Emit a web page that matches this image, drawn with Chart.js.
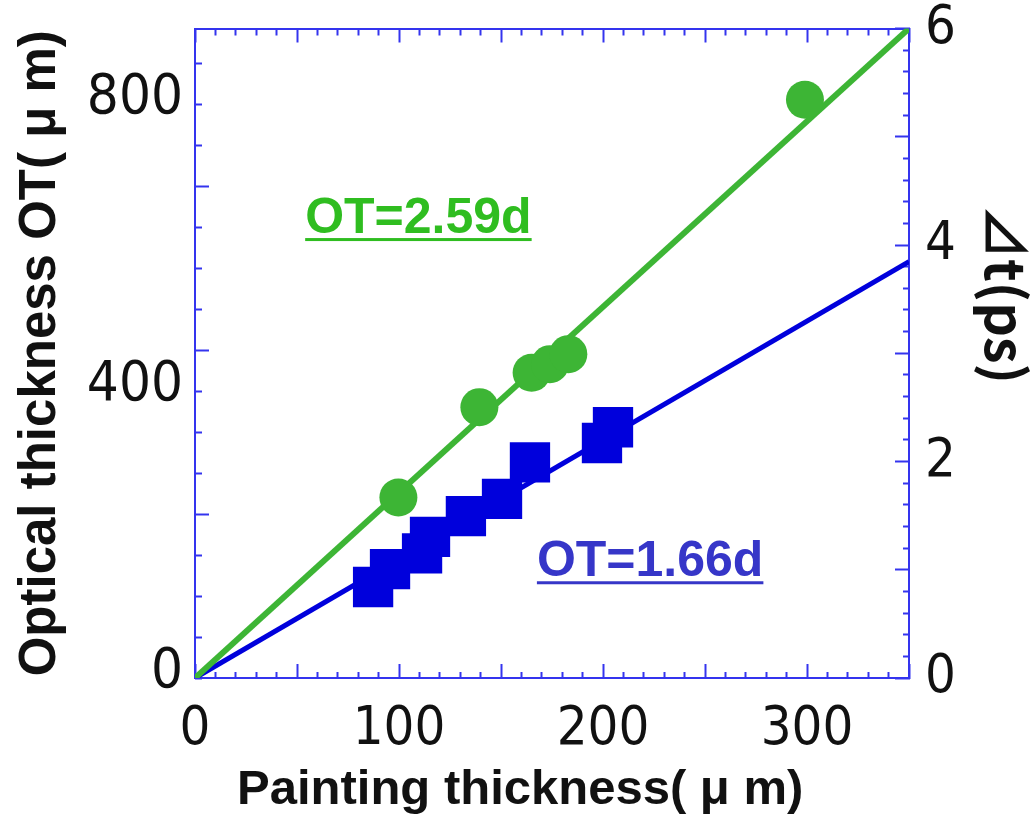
<!DOCTYPE html>
<html>
<head>
<meta charset="utf-8">
<title>Optical thickness vs painting thickness</title>
<script src="https://cdn.jsdelivr.net/npm/chart.js@4.4.1/dist/chart.umd.min.js"></script>
<style>
    html, body { margin: 0; padding: 0; background: #fff; }
    #wrap { width: 1034px; height: 819px; }
</style>
</head>
<body>
<div id="wrap"><canvas id="otChart" width="1034" height="819"></canvas></div>
<script>
    // Measured points: painting thickness d (um) and optical thickness OT (um)
    const circleD  = [99.7, 139.4, 165, 174, 183, 299];
    const circleOT = [252, 378, 426, 438, 452, 807];
    const squareD  = [87.3, 95.6, 111.3, 115.2, 132.8, 150.5, 164.2, 199.5, 204.9];
    const squareOT = [127, 152, 174, 197, 226, 250, 301, 328, 350];

    // Fitted lines OT = k * d
    const fitSlopes = [2.59, 1.66];
    const fitRange = [0, 350];

    // Labelled ticks
    const xLabels = [0, 100, 200, 300];
    const otLabels = [0, 400, 800];
    const dtLabels = [0, 2, 4, 6];

    const colors = {
        green: '#3db535',
        blue: '#0000dc',
        axis: '#3434ee',
        greenText: '#2fbd20',
        blueText: '#3636c8',
        text: '#111111'
    };

    const narrow = "'DejaVu Sans Condensed', 'Liberation Sans Narrow', sans-serif";
    const sans = "'Liberation Sans', Arial, 'Noto Sans CJK JP', sans-serif";
    const cjk = "'Noto Sans CJK JP', 'Liberation Sans', sans-serif";

    // tick marks point into the plot; short ones are cut with a dash pattern
    const TICK = 14;
    const SHORT = 7;

    function range(count, step) {
        const out = [];
        for (let i = 0; i < count; i++) out.push(Math.round(i * step * 1e6) / 1e6);
        return out;
    }

    const xTicks = range(36, 10);           // every 10 um, long every 50
    const otStep = 400 / 7;
    const otTicks = range(16, otStep);      // long every 4th
    const dtTicks = range(31, 0.2);         // every 0.2 ps, long every 1

    const near = (a, b) => Math.abs(a - b) < 1e-3;

    function setTicks(values) {
        return function(scale) {
            scale.ticks = values.map(v => ({ value: v }));
        };
    }

    // fixed box size, and no extra room for labels hanging over the ends
    function fixSize(key, size) {
        return function(scale) {
            scale[key] = size;
            scale.paddingTop = 0;
            scale.paddingBottom = 0;
            scale.paddingLeft = 0;
            scale.paddingRight = 0;
        };
    }

    // inner end first (left/top) or border end first (bottom/right)
    function tickDash(isLong, innerFirst) {
        if (isLong) return [];
        return innerFirst ? [0, TICK - SHORT, SHORT, 200] : [SHORT, 200];
    }

    function axisGrid(isLongFn, innerFirst) {
        return {
            drawOnChartArea: false,
            drawTicks: true,
            tickLength: -TICK,
            tickWidth: 2,
            tickColor: colors.axis,
            tickBorderDash: ctx => tickDash(ctx.tick && isLongFn(ctx.tick.value), innerFirst)
        };
    }

    const axisBorder = { display: true, color: colors.axis, width: 2 };

    const textLabels = {
        id: 'textLabels',
        afterDraw(chart, args, opts) {
            const { ctx, scales } = chart;
            const x = scales.x, y = scales.y;
            ctx.save();

            // fit equations with underline
            opts.equations.forEach((eq, i) => {
                const text = 'OT=' + fitSlopes[i].toFixed(2) + 'd';
                const px = x.getPixelForValue(eq.d);
                const py = y.getPixelForValue(eq.ot);
                ctx.font = 'bold 50px ' + sans;
                ctx.fillStyle = eq.color;
                ctx.textAlign = 'left';
                ctx.textBaseline = 'alphabetic';
                ctx.fillText(text, px, py);
                const w = ctx.measureText(text).width;
                ctx.fillRect(px, py + 5, w, 3);
            });

            // x axis title
            ctx.font = 'bold 49px ' + sans;
            ctx.fillStyle = colors.text;
            ctx.textAlign = 'left';
            ctx.textBaseline = 'alphabetic';
            ctx.fillText('Painting thickness( μ m)', opts.xTitle.x, opts.xTitle.y);

            // right axis title, reading downwards
            ctx.translate(opts.dtTitle.x, opts.dtTitle.y);
            ctx.rotate(Math.PI / 2);
            ctx.font = 'bold 54px ' + cjk;
            ctx.textAlign = 'left';
            ctx.textBaseline = 'middle';
            ctx.fillText('⊿t(ps)', 0, 0);

            ctx.restore();
        }
    };

    new Chart(document.getElementById('otChart'), {
        type: 'scatter',
        data: {
            datasets: [{
                label: 'OT',
                data: circleD.map((d, i) => ({ x: d, y: circleOT[i] })),
                pointStyle: 'circle',
                pointRadius: 19,
                backgroundColor: colors.green,
                borderWidth: 0,
                order: 0
            }, {
                label: 'OT',
                data: squareD.map((d, i) => ({ x: d, y: squareOT[i] })),
                pointStyle: 'rect',
                pointRadius: 28.5,
                backgroundColor: colors.blue,
                borderWidth: 0,
                order: 0
            }, {
                label: 'OT=2.59d',
                data: fitRange.map(d => ({ x: d, y: fitSlopes[0] * d })),
                showLine: true,
                pointRadius: 0,
                borderColor: colors.green,
                borderWidth: 6,
                order: 1
            }, {
                label: 'OT=1.66d',
                data: fitRange.map(d => ({ x: d, y: fitSlopes[1] * d })),
                showLine: true,
                pointRadius: 0,
                borderColor: colors.blue,
                borderWidth: 5,
                order: 1
            }]
        },
        options: {
            responsive: false,
            animation: false,
            layout: { padding: { top: 28, left: 0, right: 0, bottom: 0 } },
            plugins: {
                legend: { display: false },
                tooltip: { enabled: false },
                textLabels: {
                    equations: [
                        { d: 54, ot: 621, color: colors.greenText },
                        { d: 167.6, ot: 142, color: colors.blueText }
                    ],
                    xTitle: { x: 237, y: 804 },
                    dtTitle: { x: 1006, y: 205 }
                }
            },
            scales: {
                x: {
                    type: 'linear',
                    position: 'bottom',
                    min: fitRange[0],
                    max: fitRange[1],
                    afterBuildTicks: setTicks(xTicks),
                    afterFit: fixSize('height', 141),
                    border: axisBorder,
                    grid: axisGrid(v => near(v % 50, 0), false),
                    ticks: {
                        autoSkip: false,
                        maxRotation: 0,
                        padding: 39,
                        color: colors.text,
                        font: { family: narrow, size: 54, lineHeight: 1 },
                        callback: v => xLabels.some(l => near(l, v)) ? String(Math.round(v)) : ''
                    }
                },
                xTop: {
                    type: 'linear',
                    position: 'top',
                    min: fitRange[0],
                    max: fitRange[1],
                    afterBuildTicks: setTicks(xTicks),
                    afterFit: fixSize('height', 0),
                    border: axisBorder,
                    grid: axisGrid(v => near(v % 50, 0), true),
                    ticks: { display: false }
                },
                y: {
                    type: 'linear',
                    position: 'left',
                    min: 0,
                    max: fitSlopes[0] * fitRange[1],
                    afterBuildTicks: setTicks(otTicks),
                    afterFit: fixSize('width', 195),
                    border: axisBorder,
                    grid: axisGrid(v => {
                        const i = Math.round(v / otStep);
                        return i > 0 && i % 4 === 0;
                    }, true),
                    title: {
                        display: true,
                        text: 'Optical thickness OT( μ m)',
                        color: colors.text,
                        font: { family: sans, size: 51, weight: 'bold', lineHeight: 1 },
                        padding: { top: 15, bottom: 0 }
                    },
                    ticks: {
                        autoSkip: false,
                        padding: 26,
                        labelOffset: -6,
                        color: colors.text,
                        font: { family: narrow, size: 56 },
                        callback: v => {
                            const l = otLabels.find(l => near(l, v));
                            return l === undefined ? '' : String(l);
                        }
                    }
                },
                dt: {
                    type: 'linear',
                    position: 'right',
                    min: 0,
                    max: 6,
                    afterBuildTicks: setTicks(dtTicks),
                    afterFit: fixSize('width', 125),
                    border: axisBorder,
                    grid: axisGrid(v => near(v, Math.round(v)), false),
                    ticks: {
                        autoSkip: false,
                        padding: 30,
                        color: colors.text,
                        font: { family: narrow, size: 54 },
                        callback: v => dtLabels.some(l => near(l, v)) ? String(Math.round(v)) : ''
                    }
                }
            }
        },
        plugins: [textLabels]
    });
</script>
</body>
</html>
